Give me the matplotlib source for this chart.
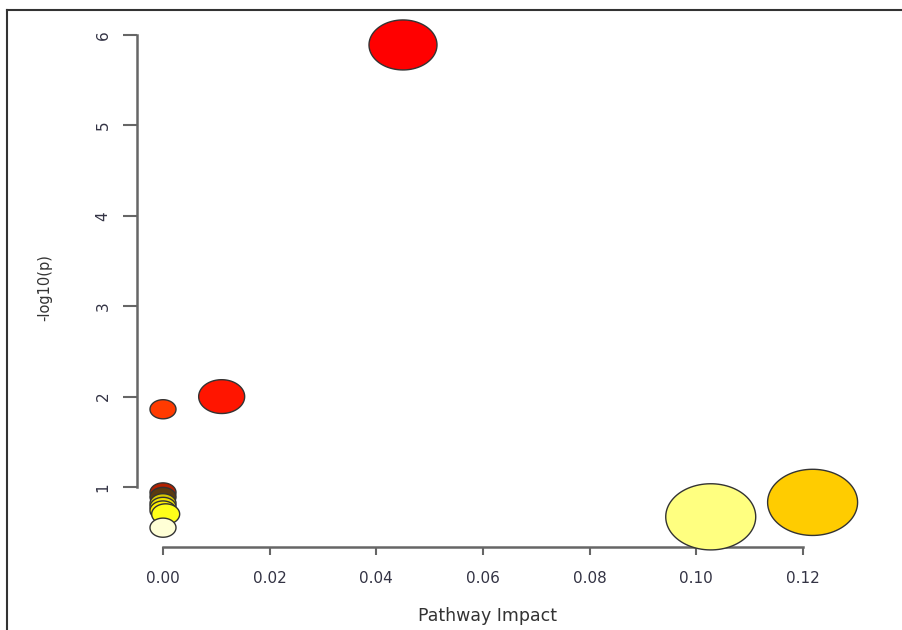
import matplotlib
matplotlib.use('Agg')
import matplotlib.pyplot as plt
from matplotlib.path import Path
from matplotlib.lines import Line2D
import numpy as np

# pathway impact vs -log10(p)
impact = [0.0, 0.0, 0.0, 0.0, 0.0, 0.0005, 0.0, 0.0, 0.011, 0.045, 0.1027, 0.1218]
neg_log_p = [0.94, 0.89, 0.82, 0.78, 0.74, 0.70, 0.55, 1.86, 2.00, 5.89, 0.67, 0.83]
bubble_px = [26, 26, 26, 26, 26, 28, 26, 26, 46, 68, 90, 90]
bubble_colors = ['#B32000', '#5A3A10', '#D8C800', '#F0E400', '#FFF000', '#FFFF1A',
                 '#FFFFD6', '#FF3A00', '#FF1500', '#FF0000', '#FFFF80', '#FFCC00']
x_ticks = [0.00, 0.02, 0.04, 0.06, 0.08, 0.10, 0.12]
y_ticks = [1, 2, 3, 4, 5, 6]

W, H = 903, 630
fig = plt.figure(figsize=(W / 100, H / 100), dpi=100)

# pixel layout of the plot region (R style, open box)
x0, x1 = 137, 880
y_bot, y_top = 547, 15
ax = fig.add_axes([x0 / W, (H - y_bot) / H, (x1 - x0) / W, (y_bot - y_top) / H])

px_per_x = (803 - 163) / 0.12
px_per_y = (487 - 35) / 5.0
ax.set_xlim((x0 - 163) / px_per_x, (x1 - 163) / px_per_x)
ax.set_ylim(6 - (y_bot - 35) / px_per_y, 6 + (35 - y_top) / px_per_y)

# ellipse marker (the original picture is stretched horizontally)
t = np.linspace(0, 2 * np.pi, 100)
verts = np.column_stack([1.36 * np.cos(t), np.sin(t)])
ellipse = Path(verts, closed=True)

sizes = [(w * 0.72) ** 2 for w in bubble_px]
ax.scatter(impact, neg_log_p, s=sizes, c=bubble_colors, marker=ellipse,
           edgecolors='#333333', linewidths=1.0, clip_on=False, zorder=5)

for side in ['top', 'right']:
    ax.spines[side].set_visible(False)
axis_grey = '#666666'
ax.spines['left'].set_bounds(1, 6)
ax.spines['bottom'].set_bounds(0.0, 0.12)
for side in ['left', 'bottom']:
    ax.spines[side].set_color(axis_grey)
    ax.spines[side].set_linewidth(1.8)

ax.set_xticks(x_ticks)
ax.set_xticklabels(['%.2f' % v for v in x_ticks])
ax.set_yticks(y_ticks)
ax.set_yticklabels([str(v) for v in y_ticks])
ax.tick_params(axis='x', length=6, width=1.5, color=axis_grey, pad=11,
               labelsize=11, labelcolor='#333344')
ax.tick_params(axis='y', length=10, width=1.5, color=axis_grey, pad=9,
               labelsize=11, labelcolor='#333344', labelrotation=90)
for lbl in ax.get_yticklabels():
    lbl.set_va('center')

fig.text(487 / W, 1 - 616 / H, 'Pathway Impact', ha='center', va='center',
         fontsize=12.5, color='#333333')
fig.text(45 / W, 1 - 288 / H, '-log10(p)', ha='center', va='center',
         rotation=90, fontsize=10.5, color='#333333')

# outer frame, only top and left edges are visible in the crop
fig.add_artist(Line2D([7 / W, 7 / W], [0, 1 - 10 / H], color='#333333', lw=1.5))
fig.add_artist(Line2D([7 / W, 1], [1 - 10 / H, 1 - 10 / H], color='#333333', lw=1.5))

fig.savefig('out.png', dpi=100)
